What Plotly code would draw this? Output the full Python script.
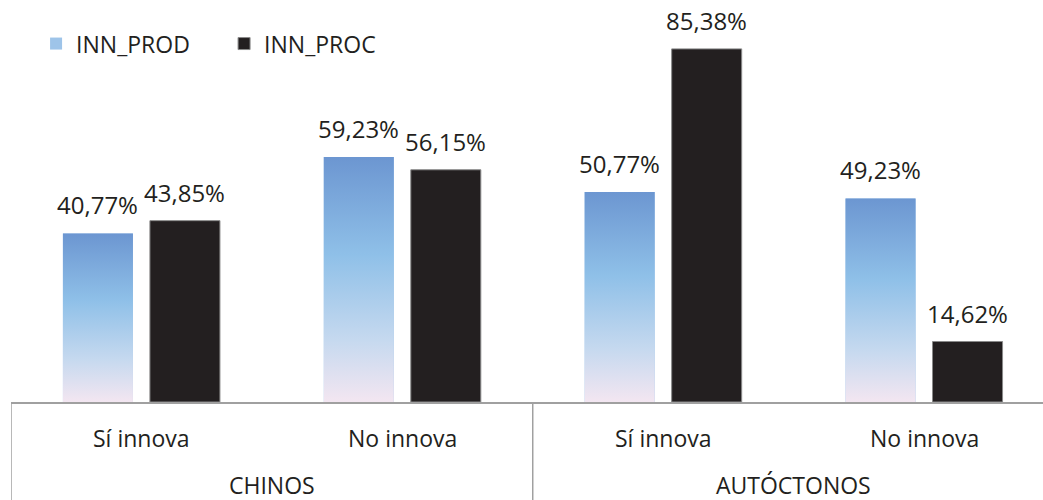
import plotly.graph_objects as go

# Innovation shares by origin group and innovation status
groups = ["CHINOS", "CHINOS", "AUTÓCTONOS", "AUTÓCTONOS"]
status = ["Sí innova", "No innova", "Sí innova", "No innova"]
inn_prod = [40.77, 59.23, 50.77, 49.23]
inn_proc = [43.85, 56.15, 85.38, 14.62]
group_names = ["CHINOS", "AUTÓCTONOS"]

TEXT = "#231f20"
GRID = "#a0a0a0"
FONT = "Open Sans"
BARGAP = 0.333
BARGROUPGAP = 0.195
X_RANGE = [-0.5, 3.456]
Y_RANGE = [0, 97.2]

# slot / bar widths in category units, derived from the bar gaps
slot = (1 - BARGAP) / 2
bar_w = slot * (1 - BARGROUPGAP)


def pct(v):
    return f"{v:.2f}%".replace(".", ",")


fig = go.Figure()
fig.add_trace(go.Bar(
    name="INN_PROD", x=[groups, status], y=inn_prod,
    marker=dict(color="#9ec4e9", line=dict(width=0)),
))
fig.add_trace(go.Bar(
    name="INN_PROC", x=[groups, status], y=inn_proc,
    marker=dict(color="#231f20", line=dict(color="#8a8a8a", width=1)),
))

# gradient face for the INN_PROD bars, on a numeric twin of the x axis
for i, v in enumerate(inn_prod):
    c = i - slot / 2
    x0, x1 = c - bar_w / 2, c + bar_w / 2
    fig.add_trace(go.Scatter(
        x=[x0, x1, x1, x0, x0], y=[0, 0, v, v, 0], xaxis="x2", yaxis="y",
        mode="lines", line=dict(width=0), fill="toself",
        fillgradient=dict(type="vertical", start=0, stop=v,
                          colorscale=[[0, "#f3e6f1"], [0.25, "#c6d9ef"],
                                      [0.6, "#8fc0e8"], [1, "#6c96d1"]]),
        showlegend=False, hoverinfo="skip",
    ))

# value labels above every bar
for vals, sign in ((inn_prod, -1), (inn_proc, 1)):
    for i, v in enumerate(vals):
        fig.add_annotation(
            x=i + sign * slot / 2, y=v, xref="x2", yref="y",
            text=pct(v), showarrow=False, yanchor="bottom", yshift=10,
            font=dict(family=FONT, size=24, color=TEXT),
        )

# category labels and group dividers below the axis
for i, s in enumerate(status):
    fig.add_annotation(
        x=i, y=0, xref="x2", yref="paper", text=s, showarrow=False,
        yanchor="middle", yshift=-36, font=dict(family=FONT, size=23, color=TEXT),
    )
for k, g in enumerate(group_names):
    fig.add_annotation(
        x=2 * k + 0.5, y=0, xref="x2", yref="paper", text=g, showarrow=False,
        yanchor="middle", yshift=-83, font=dict(family=FONT, size=23, color=TEXT),
    )
for xd in (-0.5, 1.5, 3.5):
    fig.add_shape(type="line", xref="x2", yref="paper", x0=xd, x1=xd,
                  y0=0, y1=-98 / 402, line=dict(color=GRID, width=1.5))

fig.update_layout(
    width=1043, height=500,
    margin=dict(l=10.5, r=0, t=0, b=98),
    paper_bgcolor="white", plot_bgcolor="white",
    barmode="group", bargap=BARGAP, bargroupgap=BARGROUPGAP,
    font=dict(family=FONT, color=TEXT, size=22),
    showlegend=True,
    legend=dict(orientation="h", x=0.0243, y=0.945, xanchor="left", yanchor="top",
                font=dict(family=FONT, size=23, color=TEXT),
                entrywidth=143, traceorder="normal", bgcolor="rgba(0,0,0,0)"),
    xaxis=dict(type="multicategory", range=X_RANGE, showline=True,
               linecolor=GRID, linewidth=1.5, showdividers=False,
               showticklabels=False, ticks="", showgrid=False, zeroline=False),
    xaxis2=dict(overlaying="x", range=X_RANGE, visible=False, anchor="y"),
    yaxis=dict(range=Y_RANGE, visible=False, showgrid=False, zeroline=False),
)

fig.write_html("out.html")
